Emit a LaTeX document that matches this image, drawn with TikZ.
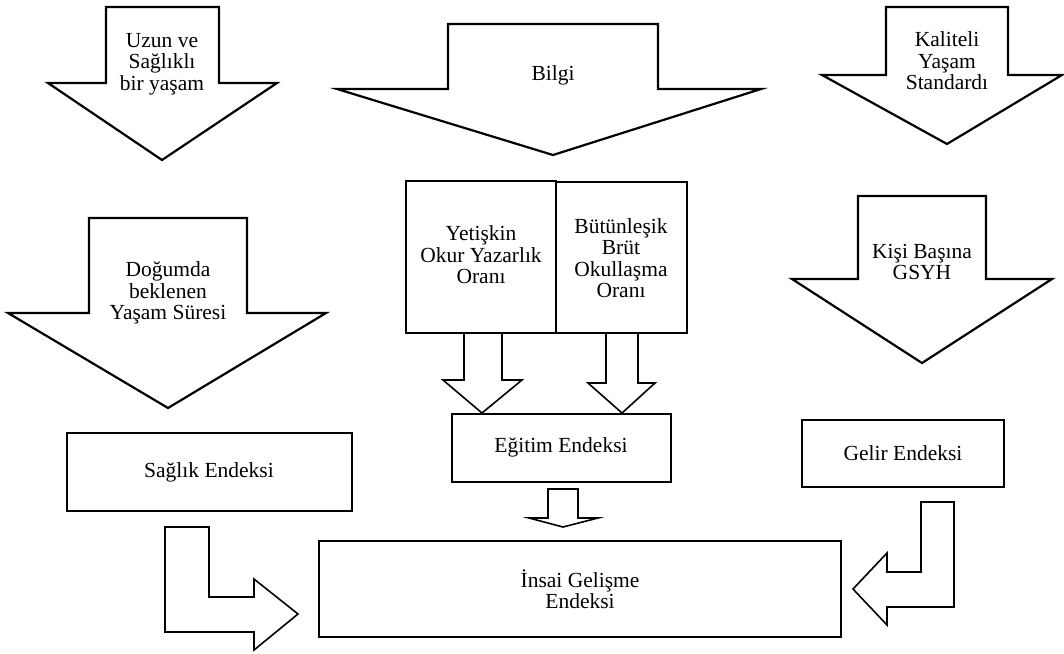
\documentclass[tikz,border=0pt]{standalone}
\usepackage{fontspec}
\setmainfont{Liberation Serif}
\begin{document}
\begin{tikzpicture}[x=1pt,y=-1pt,
  blockarrow/.style={draw=black,fill=white,line width=2.2pt,line join=miter},
  thinarrow/.style={draw=black,fill=white,line width=1.6pt,line join=miter},
  boxnode/.style={draw=black,fill=white,line width=2.3pt},
  lbl/.style={align=center,font=\fontsize{21.5}{21.5}\selectfont,inner sep=0pt}]
\useasboundingbox (0,0) rectangle (1064,653);
% top big arrows
\draw[blockarrow] (106,7) -- (219,7) -- (219,83) -- (277,83) -- (162,160) -- (48,83) -- (106,83) -- cycle;
\draw[blockarrow] (448,24) -- (658,24) -- (658,89) -- (761,89) -- (553,155) -- (337,89) -- (448,89) -- cycle;
\draw[blockarrow] (886,7) -- (1008,7) -- (1008,75) -- (1062,75) -- (947,144) -- (822,75) -- (886,75) -- cycle;
% middle big arrows
\draw[blockarrow] (89,218) -- (247,218) -- (247,313) -- (326,313) -- (168,408) -- (8,313) -- (89,313) -- cycle;
\draw[blockarrow] (858,196) -- (986,196) -- (986,279) -- (1052,279) -- (922,363) -- (792,279) -- (858,279) -- cycle;
\node[lbl] (uzun) at (162,64) {Uzun ve\\Sağlıklı\\bir yaşam};
\node[lbl] (bilgi) at (553,75) {Bilgi};
\node[lbl] (kalite) at (947,61) {Kaliteli\\Yaşam\\Standardı};
\node[lbl] (dogum) at (168,293) {Doğumda\\beklenen\\Yaşam Süresi};
\node[lbl] (kisi) at (922,262) {Kişi Başına\\GSYH};
% small arrows below education boxes
\draw[thinarrow] (464,333) -- (502,333) -- (502,380) -- (522,380) -- (482,413) -- (443,380) -- (464,380) -- cycle;
\draw[thinarrow] (606,333) -- (638,333) -- (638,383) -- (655,383) -- (622,413) -- (588,383) -- (606,383) -- cycle;
% education boxes
\draw[boxnode] (406,181) rectangle (556,333);
\draw[boxnode] (556,182) rectangle (687,333);
\node[lbl] (yetis) at (481,255) {Yetişkin\\Okur Yazarlık\\Oranı};
\node[lbl] (butun) at (621,258) {Bütünleşik\\Brüt\\Okullaşma\\Oranı};
% index boxes
\draw[boxnode] (452,414) rectangle (671,482);
\node[lbl] (egitim) at (561,447) {Eğitim Endeksi};
\draw[boxnode] (67,433) rectangle (352,511);
\node[lbl] (saglik) at (209,472) {Sağlık Endeksi};
\draw[boxnode] (802,420) rectangle (1004,487);
\node[lbl] (gelir) at (903,453) {Gelir Endeksi};
\draw[boxnode] (319,541) rectangle (841,637);
\node[lbl] (insai) at (580,589) {İnsai Gelişme\\Endeksi};
% middle down arrow
\draw[thinarrow] (548,489) -- (578,489) -- (578,518) -- (598,518) -- (563,527) -- (529,518) -- (548,518) -- cycle;
% L arrows
\draw[thinarrow] (165,527) -- (209,527) -- (209,597) -- (254,597) -- (254,579) -- (298,614) -- (254,650) -- (254,632) -- (165,632) -- cycle;
\draw[thinarrow] (921,502) -- (954,502) -- (954,607) -- (887,607) -- (887,625) -- (853,589) -- (887,553) -- (887,572) -- (921,572) -- cycle;
\end{tikzpicture}
\end{document}
